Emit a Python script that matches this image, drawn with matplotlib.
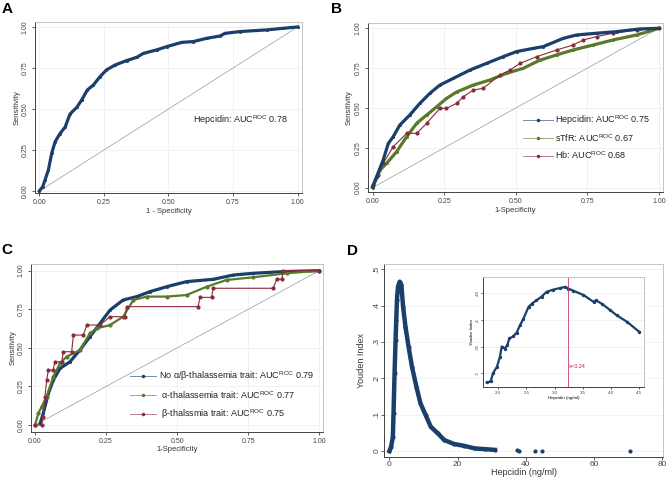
import matplotlib
matplotlib.use("Agg")
import matplotlib.pyplot as plt

plt.rcParams['font.family'] = ['Liberation Sans', 'DejaVu Sans']
plt.rcParams['mathtext.fontset'] = 'custom'
plt.rcParams['mathtext.rm'] = 'Liberation Sans'
plt.rcParams['mathtext.it'] = 'Liberation Sans'

NAVY = '#1a3f6b'
GREEN = '#5a7a2a'
MAROON = '#8a2b3a'

# panel A : hepcidin ROC
a_fpr = [0, 0.013, 0.022, 0.035, 0.048, 0.061, 0.08, 0.10, 0.119, 0.145, 0.164, 0.186,
         0.209, 0.235, 0.26, 0.293, 0.338, 0.377, 0.403, 0.454, 0.493, 0.551, 0.596,
         0.648, 0.70, 0.719, 0.777, 0.88, 0.945, 1.0]
a_tpr = [0, 0.026, 0.067, 0.128, 0.23, 0.30, 0.35, 0.39, 0.47, 0.51, 0.555, 0.616,
         0.646, 0.697, 0.738, 0.768, 0.795, 0.815, 0.839, 0.86, 0.88, 0.906, 0.911,
         0.931, 0.945, 0.961, 0.972, 0.982, 0.992, 1.0]

# panel B : hepcidin, sTfR, Hb
b_hep_fpr = [0, 0.014, 0.037, 0.055, 0.072, 0.095, 0.13, 0.165, 0.2, 0.235, 0.282, 0.34,
             0.398, 0.456, 0.503, 0.561, 0.596, 0.666, 0.712, 0.782, 0.852, 0.934, 1.0]
b_hep_tpr = [0.006, 0.069, 0.174, 0.278, 0.32, 0.393, 0.456, 0.529, 0.592, 0.644, 0.686,
             0.738, 0.78, 0.822, 0.854, 0.874, 0.885, 0.937, 0.958, 0.969, 0.979, 0.996, 1.0]
b_stfr_fpr = [0, 0.026, 0.049, 0.084, 0.119, 0.154, 0.189, 0.224, 0.258, 0.293, 0.352,
              0.41, 0.468, 0.526, 0.584, 0.643, 0.70, 0.77, 0.84, 0.922, 1.0]
b_stfr_tpr = [0, 0.11, 0.153, 0.226, 0.32, 0.404, 0.456, 0.508, 0.56, 0.60, 0.644,
              0.676, 0.718, 0.749, 0.80, 0.833, 0.864, 0.895, 0.927, 0.958, 1.0]
b_hb_fpr = [0, 0.02, 0.037, 0.072, 0.119, 0.154, 0.189, 0.235, 0.258, 0.293, 0.317, 0.352,
            0.386, 0.445, 0.48, 0.515, 0.573, 0.643, 0.70, 0.736, 0.782, 0.84, 0.922, 1.0]
b_hb_tpr = [0.017, 0.08, 0.153, 0.257, 0.341, 0.341, 0.404, 0.498, 0.498, 0.529, 0.571,
            0.613, 0.623, 0.707, 0.738, 0.78, 0.822, 0.864, 0.895, 0.927, 0.948, 0.969,
            0.99, 1.0]

# panel C : by thalassemia status
c_no_fpr = [0.018, 0.029, 0.047, 0.064, 0.088, 0.123, 0.158, 0.193, 0.229, 0.264, 0.31,
            0.358, 0.404, 0.463, 0.533, 0.627, 0.698, 0.768, 0.873, 1.0]
c_no_tpr = [0.011, 0.076, 0.205, 0.29, 0.367, 0.41, 0.486, 0.572, 0.659, 0.745, 0.81,
            0.832, 0.864, 0.896, 0.929, 0.944, 0.972, 0.983, 0.994, 1.0]
c_alpha_fpr = [0, 0.012, 0.023, 0.041, 0.064, 0.088, 0.111, 0.158, 0.193, 0.217, 0.264,
               0.31, 0.346, 0.393, 0.463, 0.533, 0.604, 0.674, 0.768, 0.885, 1.0]
c_alpha_tpr = [0, 0.076, 0.119, 0.184, 0.313, 0.40, 0.443, 0.486, 0.594, 0.626, 0.648,
               0.702, 0.81, 0.832, 0.832, 0.842, 0.896, 0.94, 0.957, 0.983, 1.0]
c_beta_fpr = [0, 0.023, 0.029, 0.035, 0.041, 0.047, 0.064, 0.07, 0.094, 0.1, 0.129, 0.135,
              0.17, 0.182, 0.229, 0.264, 0.317, 0.322, 0.574, 0.58, 0.621, 0.627, 0.838,
              0.85, 0.868, 0.873, 1.0]
c_beta_tpr = [0, 0, 0.054, 0.184, 0.29, 0.356, 0.356, 0.41, 0.41, 0.475, 0.475, 0.583,
              0.583, 0.648, 0.648, 0.702, 0.702, 0.767, 0.767, 0.827, 0.827, 0.886, 0.886,
              0.944, 0.944, 1.0, 1.0]

# panel D : Youden index vs hepcidin
d_hep = [0, 0.5, 1.0, 1.2, 1.5, 1.8, 2.0, 2.2, 2.5, 3.0, 3.5, 4.0, 4.7, 5.6, 6.6, 7.9,
         9.1, 10.6, 12.1, 14.1, 16.1, 19.0, 22, 25, 28, 30.9]
d_youden = [0, 0.012, 0.039, 0.104, 0.214, 0.306, 0.361, 0.416, 0.452, 0.466, 0.457,
            0.397, 0.342, 0.287, 0.232, 0.177, 0.131, 0.099, 0.067, 0.049, 0.030, 0.019,
            0.014, 0.007, 0.005, 0.003]
d_tail_hep = [37.4, 37.9, 42.8, 44.6, 70.6]
d_tail_youden = [0.002, 0.001, 0.0, 0.0, 0.0]

ins_hep = [1.80, 1.87, 1.91, 1.98, 2.035, 2.065, 2.12, 2.165, 2.2, 2.27, 2.33, 2.39, 2.45,
           2.54, 2.6, 2.68, 2.77, 2.86, 2.98, 3.1, 3.19, 3.24, 3.33, 3.51, 3.69, 3.73,
           3.83, 3.98, 4.1, 4.28, 4.5]
ins_youden = [0.283, 0.285, 0.30, 0.312, 0.331, 0.35, 0.346, 0.353, 0.365, 0.369, 0.376,
              0.39, 0.402, 0.424, 0.43, 0.436, 0.443, 0.452, 0.456, 0.459, 0.461, 0.458,
              0.454, 0.446, 0.433, 0.436, 0.43, 0.418, 0.408, 0.396, 0.377]
cutoff = 3.24

roc_ticks = [0, 0.25, 0.5, 0.75, 1.0]
roc_labels = ['0.00', '0.25', '0.50', '0.75', '1.00']

fig = plt.figure(figsize=(6.67, 4.79), dpi=100)


def style(ax, fs=5):
    for s in ['top', 'right']:
        ax.spines[s].set_color('#bbbbbb')
        ax.spines[s].set_linewidth(0.6)
    for s in ['left', 'bottom']:
        ax.spines[s].set_color('#444444')
        ax.spines[s].set_linewidth(0.7)
    ax.tick_params(length=2.5, width=0.6, colors='#444444', labelsize=fs, pad=2)
    ax.grid(True, color='#eef0f2', lw=0.6)
    ax.set_axisbelow(True)


def roc_axes(rect, xlabel):
    ax = fig.add_axes(rect)
    style(ax)
    ax.set_xticks(roc_ticks)
    ax.set_xticklabels(roc_labels)
    ax.set_yticks(roc_ticks)
    ax.set_yticklabels(roc_labels, rotation=90, va='center')
    ax.set_xlabel(xlabel, fontsize=5.5, labelpad=1, color='#333333')
    ax.set_ylabel('Sensitivity', fontsize=5.5, labelpad=1, color='#333333')
    ax.plot([0, 1], [0, 1], color='#999999', lw=0.5)
    return ax


def legend(ax, entries, x0, y0, dy, w):
    for i, (col, lab) in enumerate(entries):
        y = y0 - i * dy
        ax.plot([x0, x0 + w], [y, y], color=col, lw=0.6, alpha=0.7,
                transform=ax.transAxes, clip_on=False)
        ax.plot([x0 + w / 2], [y], 'o', ms=1.5, color=col, transform=ax.transAxes)
        ax.text(x0 + w + 0.008, y, lab, transform=ax.transAxes, fontsize=6.5,
                va='center', color='#222222')


# A
axA = roc_axes([0.0525, 0.597, 0.4003, 0.357], '1 - Specificity')
axA.plot(a_fpr, a_tpr, color=NAVY, lw=2.3, marker='o', ms=1.2)
axA.set_xlim(-0.0166, 1.017)
axA.set_ylim(-0.012, 1.03)
axA.text(0.594, 0.433, 'Hepcidin: AUC$^{ROC}$ 0.78', fontsize=6.5, color='#222222',
         va='center')

# B
axB = roc_axes([0.5513, 0.5992, 0.4427, 0.3534], '1-Specificity')
axB.plot(b_stfr_fpr, b_stfr_tpr, color=GREEN, lw=2.3, marker='o', ms=1.2)
axB.plot(b_hb_fpr, b_hb_tpr, color=MAROON, lw=0.8, marker='o', ms=2.0)
axB.plot(b_hep_fpr, b_hep_tpr, color=NAVY, lw=2.3, marker='o', ms=1.2)
axB.set_xlim(-0.017, 1.014)
axB.set_ylim(-0.027, 1.035)
legend(axB, [(NAVY, 'Hepcidin: AUC$^{ROC}$ 0.75'), (GREEN, 'sTfR: AUC$^{ROC}$ 0.67'),
             (MAROON, 'Hb: AUC$^{ROC}$ 0.68')], 0.526, 0.425, 0.105, 0.1)

# C
axC = roc_axes([0.0465, 0.0987, 0.4373, 0.3501], '1-Specificity')
axC.plot(c_no_fpr, c_no_tpr, color=NAVY, lw=2.3, marker='o', ms=1.2)
axC.plot(c_alpha_fpr, c_alpha_tpr, color=GREEN, lw=1.6, marker='o', ms=2.0)
axC.plot(c_beta_fpr, c_beta_tpr, color=MAROON, lw=0.8, marker='o', ms=2.0)
axC.set_xlim(-0.014, 1.012)
axC.set_ylim(-0.043, 1.043)
legend(axC, [(NAVY, 'No α/β-thalassemia trait: AUC$^{ROC}$ 0.79'),
             (GREEN, ' α-thalassemia trait: AUC$^{ROC}$ 0.77'),
             (MAROON, ' β-thalssmia trait: AUC$^{ROC}$ 0.75')], 0.34, 0.33, 0.113, 0.09)

# D
axD = fig.add_axes([0.5762, 0.0466, 0.4183, 0.4023])
style(axD, fs=6)
axD.tick_params(length=2, pad=1)
axD.plot(d_hep, d_youden, color=NAVY, lw=3.2, marker='o', ms=2.0)
axD.plot(d_tail_hep, d_tail_youden, 'o', color=NAVY, ms=2.0, lw=0)
axD.set_xlim(-1.5, 80.3)
axD.set_ylim(-0.0157, 0.5146)
axD.set_xticks([0, 20, 40, 60, 80])
axD.set_yticks([0, 0.1, 0.2, 0.3, 0.4, 0.5])
axD.set_yticklabels(['0', '.1', '.2', '.3', '.4', '.5'], rotation=90, va='center')
axD.grid(False, axis='x')
axD.set_xlabel('Hepcidin (ng/ml)', fontsize=6.5, labelpad=0, color='#333333')
axD.set_ylabel('Youden Index', fontsize=6.5, labelpad=5, color='#333333')

axI = fig.add_axes([0.7246, 0.1914, 0.2409, 0.2309])
style(axI, fs=3.2)
axI.tick_params(length=1.5, pad=1)
axI.plot(ins_hep, ins_youden, color=NAVY, lw=1.6, marker='o', ms=1.4)
axI.axvline(cutoff, color='#c0406a', lw=0.6)
axI.text(cutoff + 0.01, 0.312, 'x=3.24', fontsize=4, color='#b02050', va='center')
axI.set_xlim(1.74, 4.58)
axI.set_ylim(0.274, 0.48)
axI.set_xticks([2, 2.5, 3, 3.5, 4, 4.5])
axI.set_yticks([0.3, 0.35, 0.4, 0.45])
axI.set_yticklabels(['.3', '.35', '.4', '.45'], rotation=90, va='center')
axI.grid(False, axis='x')
axI.set_xlabel('Hepcidin (ng/ml)', fontsize=3.2, labelpad=1)
axI.set_ylabel('Youden Index', fontsize=3.2, labelpad=1)

for lab, x, y in [('A', 0.002, 0.995), ('B', 0.497, 0.995), ('C', 0.002, 0.493),
                  ('D', 0.52, 0.49)]:
    fig.text(x, y, lab, fontsize=11, fontweight='bold', va='top', ha='left')

fig.savefig('out.png', dpi=100)
